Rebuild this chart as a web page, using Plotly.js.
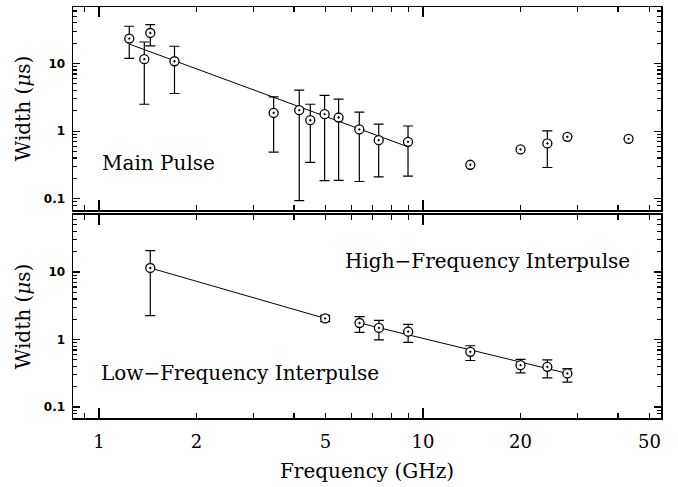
<!DOCTYPE html>
<html><head><meta charset="utf-8">
<script src="https://cdn.plot.ly/plotly-3.0.1.min.js"></script>
<style>html,body{margin:0;padding:0;background:#fff}</style>
</head><body>
<div id="chart" style="width:678px;height:487px"></div>
<script>
// ---- Main pulse (top panel) ----
const mpFreq  = [1.24, 1.38, 1.44, 1.71, 3.46, 4.15, 4.49, 4.97, 5.49, 6.36, 7.30, 8.99, 14.0, 20.0, 24.2, 27.9, 43.1];
const mpWidth = [23.4, 11.6, 28.3, 10.8, 1.86, 2.04, 1.45, 1.78, 1.59, 1.06, 0.736, 0.695, 0.318, 0.536, 0.658, 0.824, 0.77];
const mpUpper = [35.6, 20.8, 37.7, 18.0, 3.21, 4.03, 2.50, 3.37, 2.97, 1.91, 1.27, 1.19, null, null, 1.01, null, null];
const mpLower = [11.9, 2.50, 18.2, 3.60, 0.49, 0.094, 0.345, 0.185, 0.187, 0.180, 0.211, 0.216, null, null, 0.29, null, null];
const mpFitFreq  = [1.24, 8.99];
const mpFitWidth = [19.4, 0.586];

// ---- Low-frequency interpulse (bottom panel) ----
const lfFreq  = [1.44, 4.99];
const lfWidth = [11.5, 2.06];
const lfUpper = [20.8, 2.29];
const lfLower = [2.26, 1.85];

// ---- High-frequency interpulse (bottom panel) ----
const hfFreq  = [6.37, 7.31, 9.00, 14.0, 20.0, 24.2, 27.9];
const hfWidth = [1.76, 1.49, 1.31, 0.658, 0.418, 0.394, 0.315];
const hfUpper = [2.19, 1.93, 1.68, 0.81, 0.51, 0.50, 0.37];
const hfLower = [1.28, 0.99, 0.91, 0.49, 0.32, 0.27, 0.234];
const hfFitFreq  = [6.37, 27.9];
const hfFitWidth = [1.76, 0.315];

// ---- ticks ----
const xMajor = [1, 2, 5, 10, 20, 50];
const xLabels = ['1', '2', '5', '10', '20', '50'];
const xMinor = [0.9, 3, 4, 6, 7, 8, 9, 30, 40];
const xDecade = [1, 10];
const yMajor = [0.1, 1, 10];
const yLabels = ['0.1', '1', '10'];
const yMinor = [0.08, 0.09, 0.2, 0.3, 0.4, 0.5, 0.6, 0.7, 0.8, 0.9, 2, 3, 4, 5, 6, 7, 8, 9, 20, 30, 40, 50, 60];

const serif = 'DejaVu Serif';
const black = '#000';

function pick(arr, idx) { return idx.map(i => arr[i]); }

function errTraces(f, w, up, lo, xa, ya) {
  const withE = [], noE = [];
  f.forEach((_, i) => (up[i] == null ? noE : withE).push(i));
  const marker = {symbol: 'circle-dot', size: 9, color: 'white', line: {color: black, width: 1.3}};
  const out = [];
  if (withE.length) {
    out.push({
      x: pick(f, withE), y: pick(w, withE), xaxis: xa, yaxis: ya, mode: 'markers', type: 'scatter',
      marker: marker, showlegend: false, hoverinfo: 'skip',
      error_y: {type: 'data', symmetric: false,
        array: withE.map(i => up[i] - w[i]),
        arrayminus: withE.map(i => w[i] - lo[i]),
        color: black, thickness: 1.2, width: 5}
    });
  }
  if (noE.length) {
    out.push({x: pick(f, noE), y: pick(w, noE), xaxis: xa, yaxis: ya, mode: 'markers', type: 'scatter',
      marker: marker, showlegend: false, hoverinfo: 'skip'});
  }
  return out;
}

function fit(f, w, xa, ya) {
  return {x: f, y: w, xaxis: xa, yaxis: ya, mode: 'lines', type: 'scatter',
    line: {color: black, width: 1}, showlegend: false, hoverinfo: 'skip'};
}

const data = [
  fit(mpFitFreq, mpFitWidth, 'x', 'y'),
  fit(lfFreq, lfWidth, 'x2', 'y2'),
  fit(hfFitFreq, hfFitWidth, 'x2', 'y2'),
  ...errTraces(mpFreq, mpWidth, mpUpper, mpLower, 'x', 'y'),
  ...errTraces(lfFreq, lfWidth, lfUpper, lfLower, 'x2', 'y2'),
  ...errTraces(hfFreq, hfWidth, hfUpper, hfLower, 'x2', 'y2'),
  {x: [], y: [], xaxis: 'x3', yaxis: 'y', type: 'scatter', mode: 'markers', showlegend: false},
  {x: [], y: [], xaxis: 'x4', yaxis: 'y2', type: 'scatter', mode: 'markers', showlegend: false}
];

const base = {showline: true, linewidth: 1.5, linecolor: black, mirror: 'ticks', ticks: 'inside',
  tickcolor: black, tickwidth: 1.2, showgrid: false, zeroline: false, type: 'log'};
const xr = [-0.0802, 1.7346];
const minorX = {tickmode: 'array', tickvals: xMinor, ticklen: 5, ticks: 'inside', tickcolor: black, tickwidth: 1.2, showgrid: false};
const minorY = {tickmode: 'array', tickvals: yMinor, ticklen: 4, ticks: 'inside', tickcolor: black, tickwidth: 1.2, showgrid: false};
const yTickFont = {family: 'DejaVu Sans', size: 12, weight: 'bold', color: black};
const yTitle = {text: 'Width (<i>μ</i>s)', font: {family: serif, size: 20, color: black}, standoff: 8};

const layout = {
  width: 678, height: 487,
  margin: {l: 73, r: 17, t: 7, b: 69},
  paper_bgcolor: '#fff', plot_bgcolor: '#fff',
  showlegend: false,
  xaxis: Object.assign({}, base, {range: xr, anchor: 'y', domain: [0, 1], tickmode: 'array',
    tickvals: xMajor, ticktext: xLabels, showticklabels: false, ticklen: 5, minor: minorX}),
  xaxis3: Object.assign({}, base, {range: xr, anchor: 'y', overlaying: 'x', tickmode: 'array',
    tickvals: xDecade, showticklabels: false, ticklen: 10}),
  xaxis2: Object.assign({}, base, {range: xr, anchor: 'y2', domain: [0, 1], tickmode: 'array',
    tickvals: xMajor, ticktext: xLabels, ticklen: 5, minor: minorX,
    tickfont: {family: serif, size: 18, color: black}, ticklabelstandoff: 7,
    title: {text: 'Frequency (GHz)', font: {family: serif, size: 20, color: black}, standoff: 13}}),
  xaxis4: Object.assign({}, base, {range: xr, anchor: 'y2', overlaying: 'x2', tickmode: 'array',
    tickvals: xDecade, showticklabels: false, ticklen: 10}),
  yaxis: Object.assign({}, base, {range: [-1.167, 1.836], anchor: 'x', domain: [0.506, 1], tickmode: 'array',
    tickvals: yMajor, ticktext: yLabels, ticklen: 7, minor: minorY, tickfont: yTickFont,
    ticklabelstandoff: 4, title: yTitle}),
  yaxis2: Object.assign({}, base, {range: [-1.162, 1.846], anchor: 'x2', domain: [0, 0.494], tickmode: 'array',
    tickvals: yMajor, ticktext: yLabels, ticklen: 7, minor: minorY, tickfont: yTickFont,
    ticklabelstandoff: 4, title: yTitle}),
  annotations: [
    {text: 'Main Pulse', xref: 'paper', yref: 'paper', x: 0.145, y: 0.621, showarrow: false,
      xanchor: 'center', yanchor: 'middle', font: {family: serif, size: 20, color: black}},
    {text: 'High−Frequency Interpulse', xref: 'paper', yref: 'paper', x: 0.705, y: 0.382, showarrow: false,
      xanchor: 'center', yanchor: 'middle', font: {family: serif, size: 20, color: black}},
    {text: 'Low−Frequency Interpulse', xref: 'paper', yref: 'paper', x: 0.284, y: 0.109, showarrow: false,
      xanchor: 'center', yanchor: 'middle', font: {family: serif, size: 20, color: black}}
  ]
};

Plotly.newPlot('chart', data, layout, {displayModeBar: false, staticPlot: true});
</script>
</body></html>
